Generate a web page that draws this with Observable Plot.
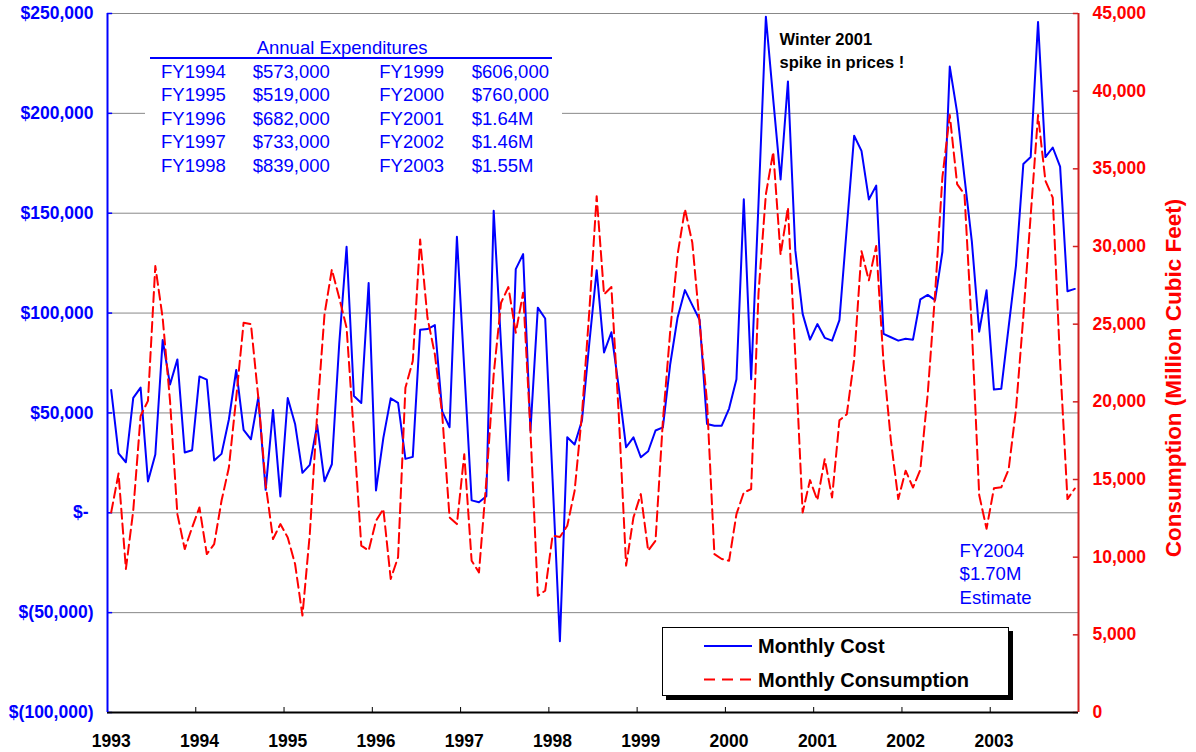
<!DOCTYPE html>
<html><head><meta charset="utf-8">
<script src="https://cdn.jsdelivr.net/npm/d3@7"></script>
<script src="https://cdn.jsdelivr.net/npm/@observablehq/plot@0.6"></script>
<style>
body{margin:0;background:#fff;font-family:"Liberation Sans",Arial,sans-serif}
#wrap{position:relative;width:1196px;height:752px;overflow:hidden}
#wrap svg{position:absolute;left:0;top:0}
.ann{position:absolute;color:#0000ff;font-size:18.5px;line-height:18.5px;white-space:nowrap}
.b{font-weight:bold;color:#000}
</style></head><body><div id="wrap"></div>
<script>
// Month labels (tick every 12 months, Jan 1993 .. Dec 2003)
const years = [1993,1994,1995,1996,1997,1998,1999,2000,2001,2002,2003];

// Monthly cost ($), one value per month
const cost = [
61500,29800,25300,57500,62700,15700,29200,86500,64200,76800,30200,31300,
68300,66700,26200,29500,46700,71500,41500,36800,57800,11500,51500,8200,
57500,44500,20000,24000,44000,15800,24300,84500,133200,58500,55000,115000,
11200,37500,57300,55000,27000,28000,91700,92000,94000,50800,42800,138200,
72000,6200,5300,8300,151200,84000,16200,122000,129500,41200,102700,97300,
17000,-64300,37800,34200,46200,85000,121500,80300,90400,62800,32800,37800,
27800,30800,41200,42800,74500,97800,111500,104000,96500,44500,43600,43600,
52200,66900,157000,66900,155000,248400,207000,166900,216000,131500,99600,86700,
94500,87600,86200,96500,142700,188800,181200,156900,163800,89600,87900,86200,
87100,86700,106900,109100,106500,130700,223400,200500,168000,135900,90700,111400,
61700,62100,93000,123800,174600,178100,245800,178100,182900,173300,110900,112100
];

// Monthly consumption (million cubic feet)
const consumption = [
12880,15390,9240,13000,19090,20060,28740,25400,20060,12770,10520,11910,
13200,10200,10840,13630,15770,20270,25090,25000,20270,14700,11170,12130,
11270,9560,6240,11490,19200,25630,28520,26700,24770,17920,10740,10420,
12340,13100,8600,9990,20910,22630,30450,25410,23060,19200,12560,12130,
16630,9770,9020,14910,21770,26380,27390,24450,27020,18130,7520,7840,
11380,11300,12020,14270,19200,25840,33240,26920,27390,19200,9450,12560,
14060,10420,11060,18770,24560,29490,32400,30250,25050,20000,10200,9880,
9770,12770,14160,14380,27000,33360,36090,29480,32520,23000,12880,14960,
13670,16310,13840,18810,19200,22720,29700,27820,30030,22500,17500,13740,
15570,14480,15640,20500,26930,34470,38460,34020,33360,24710,14000,11830,
14430,14500,15640,19500,25500,32000,38460,34240,33140,22500,13740,14420
];

const costTicks = [-100000,-50000,0,50000,100000,150000,200000,250000];
const consTicks = [0,5000,10000,15000,20000,25000,30000,35000,40000,45000];

const expFY1 = ["FY1994","FY1995","FY1996","FY1997","FY1998"];
const expAmt1 = ["$573,000","$519,000","$682,000","$733,000","$839,000"];
const expFY2 = ["FY1999","FY2000","FY2001","FY2002","FY2003"];
const expAmt2 = ["$606,000","$760,000","$1.64M","$1.46M","$1.55M"];

const nMonths = cost.length;
const consMax = 45000, costMin = -100000, costMax = 250000;
const consToY = c => c * (costMax - costMin) / consMax + costMin;
const data = cost.map((c, i) => ({i, cost: c, cons: consumption[i]}));

const fmt = d3.format(",");
const fmtCost = v => v === 0 ? "$-" : v < 0 ? `$(${fmt(-v)})` : `$${fmt(v)}`;
const FONT = "Liberation Sans, Arial, sans-serif";

const chart = Plot.plot({
  width: 1196, height: 752,
  marginLeft: 107, marginRight: 118, marginTop: 13, marginBottom: 40,
  style: {fontFamily: FONT, background: "white", overflow: "visible"},
  x: {domain: [0, nMonths], axis: null},
  y: {domain: [costMin, costMax], axis: null},
  marks: [
    Plot.ruleY(costTicks.filter(v => v > costMin), {stroke: "#888", strokeWidth: 1}),
    Plot.ruleX(years.map((y, k) => k * 12), {y1: costMin, y2: costMin + 2500, stroke: "#000", strokeWidth: 1}),
    Plot.ruleY(costTicks, {x1: 0, x2: 0.7, stroke: "blue", strokeWidth: 1.5}),
    Plot.ruleY(consTicks.map(consToY), {x1: nMonths - 0.7, x2: nMonths, stroke: "#d02020", strokeWidth: 1.5}),
    Plot.line(data, {x: d => d.i + 0.5, y: "cost", stroke: "#0000ff", strokeWidth: 2}),
    Plot.line(data, {x: d => d.i + 0.5, y: d => consToY(d.cons), stroke: "#ff0000", strokeWidth: 2, strokeDasharray: "10,5"}),
    Plot.ruleY([costMin], {stroke: "#000", strokeWidth: 2}),
    Plot.ruleX([0], {y1: costMin, y2: costMax, stroke: "#0000ff", strokeWidth: 2}),
    Plot.ruleX([nMonths], {y1: costMin, y2: costMax, stroke: "#d02020", strokeWidth: 2}),
    Plot.text(costTicks.filter(v => v !== 0), {x: 0, y: d => d, text: fmtCost, textAnchor: "end", dx: -14,
      fill: "#0000ff", fontWeight: "bold", fontSize: 17.5}),
    Plot.text([0], {x: 0, y: d => d, text: fmtCost, textAnchor: "end", dx: -19,
      fill: "#0000ff", fontWeight: "bold", fontSize: 17.5}),
    Plot.text(consTicks, {x: nMonths, y: d => consToY(d), text: d => fmt(d), textAnchor: "start", dx: 14,
      fill: "#ff0000", fontWeight: "bold", fontSize: 17.5}),
    Plot.text(years, {x: (d, k) => k * 12 + 0.5, y: costMin, dy: 29, text: d => String(d),
      fill: "#000", fontWeight: "bold", fontSize: 17.5})
  ]
});

const wrap = document.getElementById("wrap");
wrap.appendChild(chart);

function div(cls, left, top, html, extra) {
  const e = document.createElement("div");
  e.className = cls;
  e.style.left = left + "px";
  e.style.top = top + "px";
  if (extra) Object.assign(e.style, extra);
  e.innerHTML = html;
  wrap.appendChild(e);
  return e;
}

// Right axis title (rotated), centred at (1174, 378)
div("ann", 1174 - 250, 378 - 12, "Consumption (Million Cubic Feet)", {
  width: "500px", height: "24px", lineHeight: "24px", textAlign: "center",
  fontSize: "22.5px", fontWeight: "bold", color: "#ff0000", transform: "rotate(-90deg)", transformOrigin: "50% 50%"});

// Annual expenditures table (white box over grid)
div("ann", 145, 28, "", {width: "417px", height: "150px", background: "#fff"});
div("ann", 256.7, 39.2, "Annual Expenditures");
div("ann", 150, 57, "", {width: "402px", height: "2px", background: "#0000ff"});
for (let r = 0; r < 5; r++) {
  const top = 62.9 + 23.5 * r;
  div("ann", 161, top, expFY1[r]);
  div("ann", 252.7, top, expAmt1[r]);
  div("ann", 379.3, top, expFY2[r]);
  div("ann", 471.8, top, expAmt2[r]);
}

// Winter note
div("ann b", 779.6, 30.9, "Winter 2001", {fontSize: "16.5px", lineHeight: "16.5px"});
div("ann b", 779.6, 53.6, "spike in prices !", {fontSize: "16.5px", lineHeight: "16.5px"});

// FY2004 estimate
div("ann", 959.6, 541.6, "FY2004");
div("ann", 959.6, 564.9, "$1.70M");
div("ann", 959.6, 588.6, "Estimate");

// Legend
div("ann", 662, 627, "", {width: "345px", height: "67px", background: "#fff", border: "1.5px solid #000",
  boxShadow: "4px 4px 0 #000"});
div("ann", 704, 644.7, "", {width: "48px", height: "2px", background: "#0000ff"});
div("ann", 704, 678.3, '<svg width="48" height="3" style="position:static;display:block"><line x1="0" y1="1.5" x2="48" y2="1.5" stroke="#ff0000" stroke-width="2" stroke-dasharray="11,7"/></svg>');
div("ann b", 758, 635.9, "Monthly Cost", {fontSize: "20px", lineHeight: "20px"});
div("ann b", 758, 669.5, "Monthly Consumption", {fontSize: "20px", lineHeight: "20px"});
</script></body></html>
